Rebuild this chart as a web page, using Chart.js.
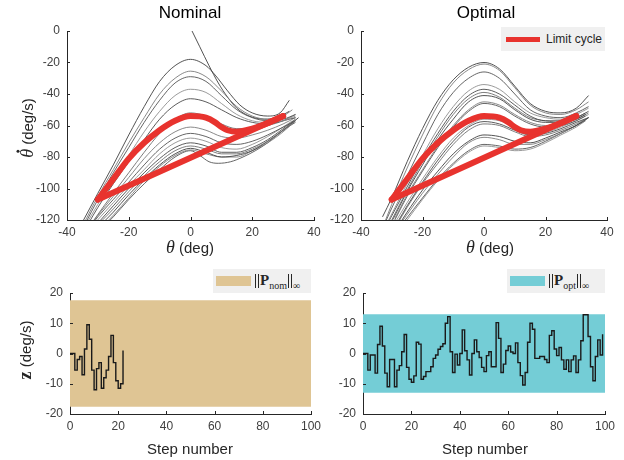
<!DOCTYPE html>
<html lang="en">
<head>
<meta charset="UTF-8" />
<title>Limit cycle: nominal vs optimal</title>
<script src="https://cdn.jsdelivr.net/npm/chart.js@4.4.0/dist/chart.umd.min.js"></script>
<style>
  body {
    margin: 0;
    width: 624px;
    height: 460px;
    position: relative;
    overflow: hidden;
    background: #fff;
    font-family: 'Liberation Sans', Arial, sans-serif;
  }
  canvas { position: absolute; }
  .txt { position: absolute; white-space: nowrap; color: #262626; }
  .title { font-size: 17px; color: #000; transform: translate(-50%, -50%); }
  .xlab { font-size: 15px; transform: translate(-50%, -50%); }
  .ylab { font-size: 15px; transform: translate(-50%, -50%) rotate(-90deg); }
  .math { font-family: 'Liberation Serif', 'DejaVu Serif', serif; font-style: italic; font-size: 18px; }
  .dotted { position: relative; display: inline-block; }
  .dotted::after {
    content: '';
    position: absolute;
    left: 52%;
    top: 0px;
    width: 3px;
    height: 3px;
    border-radius: 50%;
    background: #262626;
  }
  .bold { font-family: 'Liberation Serif', 'DejaVu Serif', serif; font-weight: bold; font-size: 18px; }
  .legend {
    position: absolute;
    height: 24px;
    background: #f0f0f0;
    display: flex;
    align-items: center;
    color: #262626;
    font-size: 12px;
  }
  .swatch { display: inline-block; }
  .norm { font-family: 'Liberation Serif', 'DejaVu Serif', serif; font-size: 15px; margin-left: 3px; color: #262626; }
  .norm sub { font-size: 10px; }
  .dbar {
    display: inline-block;
    width: 2px;
    height: 14px;
    border-left: 1px solid #262626;
    border-right: 1px solid #262626;
    vertical-align: -3px;
    margin: 0 1px;
  }
</style>
</head>
<body>
  <canvas id="nomPhase" width="330" height="260" style="left:0;top:0"></canvas>
  <canvas id="optPhase" width="324" height="260" style="left:300px;top:0"></canvas>
  <canvas id="nomSteps" width="330" height="195" style="left:0;top:265px"></canvas>
  <canvas id="optSteps" width="324" height="195" style="left:300px;top:265px"></canvas>

  <div class="txt title" style="left:190px;top:13px">Nominal</div>
  <div class="txt title" style="left:486px;top:13px">Optimal</div>

  <div class="txt ylab" style="left:27px;top:128px"><span class="math dotted">θ</span> (deg/s)</div>
  <div class="txt xlab" style="left:190px;top:247px"><span class="math">θ</span> (deg)</div>
  <div class="txt xlab" style="left:490px;top:247px"><span class="math">θ</span> (deg)</div>

  <div class="txt ylab" style="left:25px;top:350px"><span class="bold">z</span> (deg/s)</div>
  <div class="txt xlab" style="left:190px;top:448px">Step number</div>
  <div class="txt xlab" style="left:485px;top:448px">Step number</div>

  <div class="legend" style="left:501px;top:27px;width:104px">
    <span class="swatch" style="margin-left:5px;width:34px;height:5px;background:#e8332e"></span>
    <span style="margin-left:6px">Limit cycle</span>
  </div>
  <div class="legend" style="left:213px;top:269px;width:98px">
    <span class="swatch" style="margin-left:3px;width:35px;height:10px;background:#dfc594"></span>
    <span class="norm"><span class="dbar"></span><b>P</b><sub>nom</sub><span class="dbar"></span><sub>∞</sub></span>
  </div>
  <div class="legend" style="left:507px;top:269px;width:98px">
    <span class="swatch" style="margin-left:3px;width:35px;height:10px;background:#74cdd6"></span>
    <span class="norm"><span class="dbar"></span><b>P</b><sub>opt</sub><span class="dbar"></span><sub>∞</sub></span>
  </div>

<script>
// limit cycle: swing branch and the straight return branch (theta, theta-dot)
const cycleSwing = [[-30,-107],[-25,-94],[-20,-81],[-15,-71],[-10,-63],[-5,-57],[0,-54],[5,-55],[8,-58],[10,-61],[12,-63],[15,-64],[20,-62],[25,-58.5],[30,-54]];
const cycleReturn = [[30,-54],[-30,-107]];

// simulated trajectories, nominal controller
const nomTraj = [
  [[-36,-125],[-30,-103],[-25,-85],[-20,-66],[-15,-48],[-10,-32],[-5,-22],[0,-18],[5,-22],[8,-28],[12,-38],[16,-47],[20,-52],[25,-54],[29,-52],[32,-44]],
  [[-35,-124],[-30,-105],[-25,-88],[-20,-71],[-15,-55],[-10,-40],[-5,-30],[0,-25.5],[5,-29],[10,-38],[15,-48],[20,-54],[25,-56],[30,-54],[33,-50]],
  [[-34,-122],[-30,-107],[-25,-90],[-20,-74],[-15,-58],[-10,-44],[-5,-33],[0,-29],[5,-32],[10,-41],[15,-50],[20,-55],[25,-57],[30,-56],[34,-53]],
  [[-33,-120],[-30,-110],[-25,-94],[-20,-79],[-15,-64],[-10,-51],[-5,-41],[0,-37],[5,-39],[10,-46],[15,-53],[20,-57],[25,-58],[30,-57],[34,-54]],
  [[-33,-122],[-30,-112],[-25,-97],[-20,-83],[-15,-69],[-10,-56],[-5,-47],[0,-43],[5,-45],[10,-50],[15,-55],[20,-58],[25,-59],[30,-57],[34,-55]],
  [[-32,-122],[-28,-111],[-25,-103],[-20,-90],[-15,-77],[-10,-65],[-5,-56],[0,-52],[5,-54],[10,-59],[15,-62],[20,-62],[25,-60],[30,-57],[34,-53]],
  [[0.5,0],[3,-10],[6,-22],[9,-33],[12,-42],[15,-49],[19,-54],[24,-56],[28,-55],[32,-51]],
  [[-33,-125],[-30,-117],[-25,-105],[-20,-93],[-15,-81],[-10,-71],[-5,-64],[0,-61],[5,-63],[10,-67],[15,-68],[20,-66],[25,-63],[30,-59],[34,-55]],
  [[-32,-123],[-30,-118],[-25,-107],[-20,-96],[-15,-85],[-10,-75],[-5,-68],[0,-65],[5,-67],[10,-71],[15,-72],[20,-70],[25,-66],[30,-61],[34,-57]],
  [[-31,-122],[-25,-109],[-20,-98],[-15,-88],[-10,-78],[-5,-71],[0,-68],[5,-70],[10,-74],[15,-75],[20,-72],[25,-67],[30,-61],[33,-57]],
  [[-30,-122],[-25,-111],[-20,-100],[-15,-90],[-10,-81],[-5,-74],[0,-71],[5,-73],[10,-77],[15,-77],[20,-74],[25,-69],[30,-62],[34,-56]],
  [[-29,-121],[-25,-113],[-20,-102],[-15,-92],[-10,-83],[-5,-76],[0,-73],[5,-75],[10,-78],[15,-78],[20,-75],[25,-70],[30,-63],[33,-58]],
  [[-28,-121],[-25,-115],[-20,-104],[-15,-94],[-10,-85],[-5,-78],[0,-74.5],[5,-77],[10,-80],[15,-79],[20,-76],[25,-70],[30,-63],[35,-55]],
  [[-28,-123],[-25,-117],[-20,-106],[-15,-95],[-10,-86],[-5,-79],[0,-75.5],[5,-78],[10,-80],[15,-80],[20,-76],[25,-71],[30,-64],[34,-57]],
  [[-27,-122],[-25,-118],[-20,-107],[-15,-97],[-10,-88],[-5,-80],[0,-76],[3,-79],[6,-83],[9,-84],[13,-83],[17,-80],[21,-76],[25,-71],[30,-63],[34,-58]]
];

// simulated trajectories, optimal controller
const optTraj = [
  [[-33,-118],[-30,-106],[-25,-83],[-20,-62],[-15,-44],[-10,-31],[-5,-23],[0,-20],[5,-24],[10,-35],[15,-46],[20,-51],[25,-52],[30,-49],[34,-41]],
  [[-32,-120],[-30,-110],[-25,-87],[-20,-66],[-15,-47],[-10,-33],[-5,-24.5],[0,-21],[5,-25],[10,-36],[15,-47],[20,-52],[25,-53],[30,-50],[34,-45]],
  [[-32,-121],[-28,-104],[-25,-92],[-20,-72],[-15,-53],[-10,-39],[-5,-30],[0,-26],[5,-30],[10,-40],[15,-50],[20,-54],[25,-55],[30,-52],[34,-48]],
  [[-31,-120],[-25,-97],[-20,-79],[-15,-62],[-10,-48],[-5,-38],[0,-34],[5,-37],[10,-45],[15,-52],[20,-55],[25,-56],[30,-53],[34,-49]],
  [[-31,-121],[-25,-99],[-20,-81],[-15,-65],[-10,-51],[-5,-41],[0,-37],[5,-40],[10,-47],[15,-54],[20,-57],[25,-57],[30,-55],[34,-51]],
  [[-30,-120],[-25,-101],[-20,-83],[-15,-67],[-10,-53],[-5,-43],[0,-39],[5,-42],[10,-49],[15,-55],[20,-57],[25,-58],[30,-55],[33,-52]],
  [[-30,-121],[-25,-102],[-20,-85],[-15,-69],[-10,-56],[-5,-45],[0,-41],[5,-43],[10,-50],[15,-56],[20,-58],[25,-58],[30,-56],[33,-53]],
  [[-29,-119],[-25,-104],[-20,-88],[-15,-73],[-10,-60],[-5,-50],[0,-45],[5,-47],[10,-53],[15,-58],[20,-60],[25,-59],[30,-56],[34,-52]],
  [[-29,-120],[-25,-105],[-20,-89],[-15,-74],[-10,-61],[-5,-51],[0,-46],[5,-48],[10,-54],[15,-59],[20,-61],[25,-60],[30,-57],[33,-54]],
  [[-29,-122],[-25,-109],[-20,-94],[-15,-80],[-10,-68],[-5,-60],[0,-56],[5,-57],[10,-61],[15,-64],[20,-64],[25,-61],[30,-57],[34,-53]],
  [[-28,-121],[-25,-111],[-20,-96],[-15,-82],[-10,-70],[-5,-61],[0,-57.5],[5,-59],[10,-63],[15,-66],[20,-65],[25,-62],[30,-58],[34,-55]],
  [[-28,-122],[-25,-112],[-20,-97],[-15,-84],[-10,-72],[-5,-63],[0,-59],[5,-60],[10,-64],[15,-67],[20,-66],[25,-63],[30,-59],[33,-56]],
  [[-27,-121],[-25,-115],[-20,-101],[-15,-89],[-10,-78],[-5,-70],[0,-66],[5,-67],[10,-70],[15,-71],[20,-68],[25,-64],[30,-60],[34,-55]],
  [[-27,-122],[-20,-103],[-15,-91],[-10,-80],[-5,-71],[0,-67.5],[5,-69],[10,-72],[15,-72],[20,-69],[25,-65],[30,-60],[33,-57]],
  [[-26,-121],[-20,-106],[-15,-94],[-10,-84],[-5,-76],[0,-72],[5,-73],[10,-75],[15,-74],[20,-70],[25,-65],[30,-60],[34,-55]],
  [[-25,-120],[-20,-107],[-15,-95],[-10,-85],[-5,-77],[0,-73],[5,-74],[10,-76],[15,-75],[20,-71],[25,-66],[30,-61],[33,-57]]
];

// perturbation z per step
const zNom = [0,0,-5.5,-2,-1,-7,1.5,9.5,4.7,-5.5,-12,-5,-3,-11.5,-8,-5.5,-1,6,-3,-9,-11.5,-10,1];
const zOpt = [
  0,0,-5.5,-0.5,-0.5,-6.5,3,9,2.5,-6.5,
  -11,-2,-2,-11,-5.5,-4,0.6,6.3,-4.6,-8.5,
  -9.5,-7.4,3.7,3.1,-8.5,-7.6,-6,-6,-4.4,-1.6,
  -0.5,1.4,2.3,3.2,10,12.2,0.6,-6.3,-0.2,-3.8,
  0,7.8,0.9,-2.1,-7.1,0,4.5,0.6,-1.3,-4.6,
  -6,-0.7,0.6,-4.4,-4.4,10.2,5,-6.3,-3.5,1,
  2.5,0.5,0,3.5,-3,-7.3,-10.4,-6.3,3.7,10,
  8,-1.6,-1.6,-1,-1,-2,-3,6,7.5,1.5,
  -0.7,2,-2.1,-5.2,-2.1,-6,-2.1,-0.8,-6.3,-2.1,
  4.2,12.8,12.8,5.6,-4.4,-9,-1,4.5,-0.5,6.4
];

// infinity-norm bounds
const boundNom = 17.6;
const boundOpt = 13;
const stepRange = [0, 100];

const RED = '#e8332e';
const grays = ['#404040', '#7c7c7c', '#555555', '#8e8e8e', '#4a4a4a', '#6e6e6e'];
const AXIS = '#262626';
const TICK = '#404040';

// MATLAB-style tick marks pointing into the plot
const innerTicks = {
  id: 'innerTicks',
  afterDraw(chart) {
    const { ctx, chartArea: a, scales: { x, y } } = chart;
    ctx.save();
    ctx.strokeStyle = AXIS;
    ctx.lineWidth = 1;
    ctx.beginPath();
    x.ticks.forEach(t => {
      const px = Math.round(x.getPixelForValue(t.value)) + 0.5;
      ctx.moveTo(px, a.bottom);
      ctx.lineTo(px, a.bottom - 3);
    });
    y.ticks.forEach(t => {
      const py = Math.round(y.getPixelForValue(t.value)) + 0.5;
      ctx.moveTo(a.left, py);
      ctx.lineTo(a.left + 3, py);
    });
    ctx.stroke();
    ctx.restore();
  }
};

function axis(min, max, step, fit) {
  return {
    type: 'linear',
    min, max,
    ticks: { stepSize: step, color: TICK, font: { family: "'Liberation Sans', Arial", size: 12 }, padding: fit.pad },
    grid: { display: false, drawTicks: false },
    border: { display: true, color: AXIS, width: 1 },
    afterFit(s) { if (fit.w) s.width = fit.w; if (fit.h) s.height = fit.h; }
  };
}

function makeChart(id, datasets, xs, ys, padding) {
  return new Chart(document.getElementById(id), {
    type: 'scatter',
    data: { datasets },
    options: {
      responsive: false,
      animation: false,
      layout: { padding },
      plugins: { legend: { display: false }, tooltip: { enabled: false } },
      scales: { x: xs, y: ys }
    },
    plugins: [innerTicks]
  });
}

const toXY = pts => pts.map(p => ({ x: p[0], y: p[1] }));

function phaseSets(trajs) {
  const sets = trajs.map((t, i) => ({
    data: toXY(t),
    showLine: true,
    borderColor: grays[i % grays.length],
    borderWidth: 0.9,
    cubicInterpolationMode: 'monotone',
    pointRadius: 0,
    order: 2
  }));
  [cycleSwing, cycleReturn].forEach(branch => sets.push({
    data: toXY(branch),
    showLine: true,
    borderColor: RED,
    borderWidth: 6,
    borderCapStyle: 'round',
    borderJoinStyle: 'round',
    cubicInterpolationMode: 'monotone',
    pointRadius: 0,
    order: 1
  }));
  return sets;
}

function stepSets(z, bound, fillColor) {
  return [
    {
      data: z.map((v, i) => ({ x: i, y: v })),
      showLine: true,
      stepped: true,
      borderColor: '#1a1a1a',
      borderWidth: 1.4,
      pointRadius: 0,
      order: 1
    },
    {
      data: stepRange.map(s => ({ x: s, y: bound })),
      showLine: true,
      borderWidth: 0,
      backgroundColor: fillColor,
      fill: { value: -bound },
      pointRadius: 0,
      order: 2
    }
  ];
}

makeChart('nomPhase', phaseSets(nomTraj),
  axis(-40, 40, 20, { h: 40, pad: 5 }), axis(-120, 0, 20, { w: 67, pad: 7 }),
  { top: 31, right: 16, left: 0, bottom: 0 });

makeChart('optPhase', phaseSets(optTraj),
  axis(-40, 40, 20, { h: 40, pad: 5 }), axis(-120, 0, 20, { w: 61, pad: 7 }),
  { top: 31, right: 17, left: 0, bottom: 0 });

makeChart('nomSteps', stepSets(zNom, boundNom, '#dfc594'),
  axis(0, 100, 20, { h: 46, pad: 5 }), axis(-20, 20, 10, { w: 70, pad: 7 }),
  { top: 28, right: 19, left: 0, bottom: 0 });

makeChart('optSteps', stepSets(zOpt, boundOpt, '#74cdd6'),
  axis(0, 100, 20, { h: 46, pad: 5 }), axis(-20, 20, 10, { w: 63, pad: 7 }),
  { top: 28, right: 19, left: 0, bottom: 0 });
</script>
</body>
</html>
